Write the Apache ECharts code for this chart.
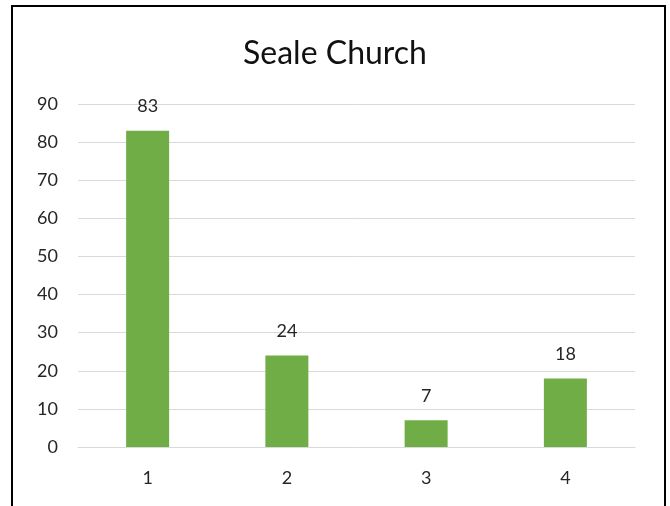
<!DOCTYPE html>
<html>
<head>
<meta charset="utf-8">
<script src="https://cdn.jsdelivr.net/npm/echarts@6/dist/echarts.min.js"></script>
<style>
  html, body { margin: 0; padding: 0; background: #fff; }
  #chart { width: 670px; height: 506px; }
</style>
</head>
<body>
<div id="chart"></div>
<script>
// Seale Church counts per category
const categories = ['1', '2', '3', '4'];
const counts = [83, 24, 7, 18];
const yTicks = { min: 0, max: 90, step: 10 };

const FONT = 'Lato, "Open Sans", sans-serif';
const chart = echarts.init(document.getElementById('chart'));

chart.setOption({
  animation: false,
  backgroundColor: '#ffffff',
  title: {
    text: 'Seale Church',
    left: 'center',
    top: 33,
    textStyle: { fontFamily: FONT, fontSize: 32, fontWeight: 'normal', color: '#111' }
  },
  graphic: [{
    type: 'rect',
    shape: { x: 12, y: 6, width: 653, height: 540 },
    style: { fill: 'none', stroke: '#000', lineWidth: 2 },
    silent: true
  }],
  grid: { left: 78, right: 35, top: 104, bottom: 59, containLabel: false },
  xAxis: {
    type: 'category',
    data: categories,
    axisLine: { show: true, lineStyle: { color: '#d9d9d9', width: 1 } },
    axisTick: { show: false },
    axisLabel: { fontFamily: FONT, fontSize: 18, color: '#262626', margin: 22 }
  },
  yAxis: {
    type: 'value',
    min: yTicks.min,
    max: yTicks.max,
    interval: yTicks.step,
    axisLine: { show: false },
    axisTick: { show: false },
    axisLabel: { fontFamily: FONT, fontSize: 18, color: '#262626', margin: 20 },
    splitLine: { lineStyle: { color: '#d9d9d9', width: 1 } }
  },
  series: [{
    type: 'bar',
    data: counts,
    barWidth: 43,
    itemStyle: { color: '#70ad47' },
    label: {
      show: true,
      position: 'top',
      distance: 15,
      fontFamily: FONT,
      fontSize: 18,
      color: '#262626'
    }
  }]
});
</script>
</body>
</html>
